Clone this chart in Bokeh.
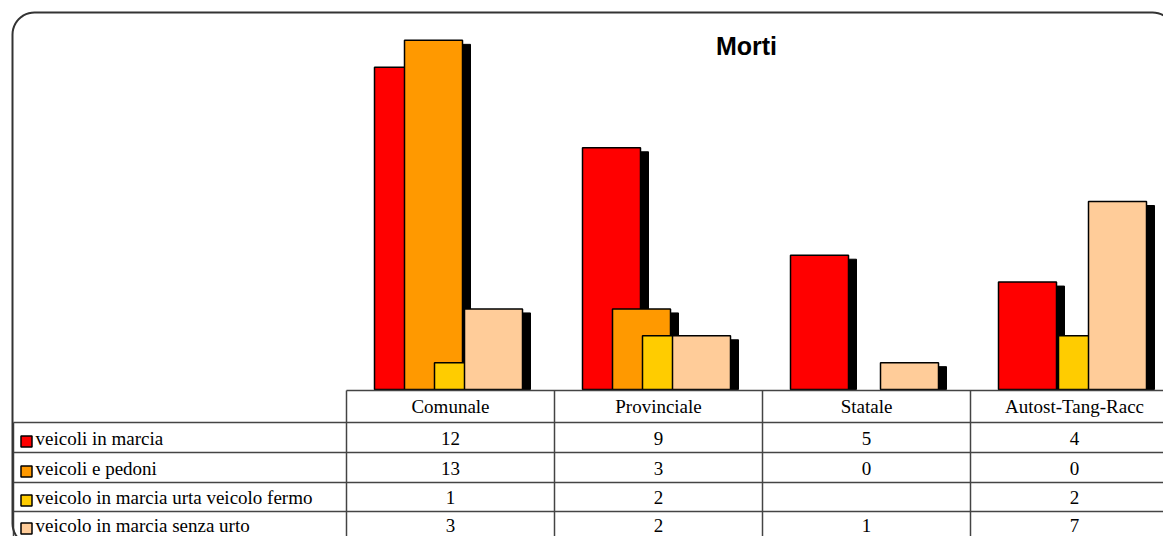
import math
from bokeh.plotting import figure
from bokeh.models import Range1d
from bokeh.core.properties import value
from bokeh.embed import file_html
from bokeh.resources import INLINE

# ---------------- data ----------------
title = "Morti"
categories = ["Comunale", "Provinciale", "Statale", "Autost-Tang-Racc"]
series_names = ["veicoli in marcia", "veicoli e pedoni",
                "veicolo in marcia urta veicolo fermo", "veicolo in marcia senza urto"]
veicoli_in_marcia = [12, 9, 5, 4]
veicoli_e_pedoni = [13, 3, 0, 0]
urta_veicolo_fermo = [1, 2, None, 2]
senza_urto = [3, 2, 1, 7]
series_values = [veicoli_in_marcia, veicoli_e_pedoni, urta_veicolo_fermo, senza_urto]
colors = ["#FF0000", "#FF9900", "#FFCC00", "#FFCC99"]

# ---------------- layout (picture pixels) ----------------
ORIG = 0
W, H = 1163, 536
CAT_W = 208.0          # px per category column
CAT0 = 450.0           # x of first category centre
BASE_Y = 389.0         # y of value 0
UNIT = 376.0 / 14.0    # px per unit of value

p = figure(width=W, height=H, output_backend="svg", toolbar_location=None,
           x_range=Range1d(ORIG, ORIG + W), y_range=Range1d(ORIG + H, ORIG),
           x_axis_location=None, y_axis_location=None, min_border=0)
p.grid.visible = False
p.outline_line_color = None
p.background_fill_color = "white"
p.border_fill_color = "white"

p.extra_x_ranges["cat"] = Range1d((ORIG - CAT0) / CAT_W, (ORIG + W - CAT0) / CAT_W)
p.extra_y_ranges["val"] = Range1d(-(ORIG + H - BASE_Y) / UNIT, (BASE_Y - ORIG) / UNIT)

# ---------------- bars ----------------
offsets_px = [-47, -17, 13, 43]
bar_w = 58 / CAT_W
sh_dx = 8 / CAT_W
sh_dy = 4 / UNIT
for k, vals in enumerate(series_values):
    xs, tops = [], []
    for i, v in enumerate(vals):
        if v is None or v <= 0:
            continue
        xs.append(i + offsets_px[k] / CAT_W)
        tops.append(v)
    if not xs:
        continue
    p.vbar(x=[x + sh_dx for x in xs], top=[t - sh_dy for t in tops], bottom=0, width=bar_w,
           fill_color="black", line_color="black", line_width=1,
           x_range_name="cat", y_range_name="val")
    p.vbar(x=xs, top=tops, bottom=0, width=bar_w,
           fill_color=colors[k], line_color="black", line_width=1.5,
           x_range_name="cat", y_range_name="val")

# ---------------- data table ----------------
LINE_C = "#444444"
TBL_L = 13
RIGHT = ORIG + W
HEADER_TOP = 390
row_lines = [422, 452, 482, 511, 540]
row_mid = [438, 468, 497, 525]
header_mid = 406

hx = [[346, RIGHT]] + [[TBL_L, RIGHT] for _ in row_lines]
hy = [[HEADER_TOP, HEADER_TOP]] + [[y, y] for y in row_lines]
p.multi_line(xs=hx, ys=hy, line_color=LINE_C, line_width=1.5)
vx = [[i - 0.5, i - 0.5] for i in range(len(categories))]
vy = [[HEADER_TOP, row_lines[-1]] for _ in categories]
p.multi_line(xs=vx, ys=vy, line_color=LINE_C, line_width=1.5, x_range_name="cat")
p.line(x=[TBL_L, TBL_L], y=[row_lines[0], row_lines[-1]], line_color=LINE_C, line_width=1.5)

serif = value("Liberation Serif")
FS = "19px"
p.text(x=list(range(len(categories))), y=[header_mid] * len(categories), text=categories,
       text_font=serif, text_font_size=FS, text_align="center",
       text_baseline="middle", text_color="black", x_range_name="cat")

cx, cy, ct = [], [], []
for k, vals in enumerate(series_values):
    for i, v in enumerate(vals):
        if v is None:
            continue
        cx.append(i)
        cy.append(row_mid[k])
        ct.append(str(v))
p.text(x=cx, y=cy, text=ct, text_font=serif, text_font_size=FS,
       text_align="center", text_baseline="middle", text_color="black",
       x_range_name="cat")

p.rect(x=[26] * 4, y=[m + 3 for m in row_mid], width=11, height=11,
       fill_color=colors, line_color="black", line_width=1.5)
p.text(x=[35] * 4, y=row_mid, text=series_names, text_font=serif,
       text_font_size=FS, text_align="left", text_baseline="middle",
       text_color="black")

# ---------------- title ----------------
p.text(x=[746], y=[45], text=[title], text_font=value("Liberation Sans"),
       text_font_style="bold", text_font_size="25px", text_align="center",
       text_baseline="middle", text_color="black")

# ---------------- rounded outer frame ----------------
fl, fr, ft, fb, rad = 12, 1174, 12, 545, 22
fx, fy = [], []
def arc(cx_, cy_, a0, a1, n=12):
    for j in range(n + 1):
        a = math.radians(a0 + (a1 - a0) * j / n)
        fx.append(cx_ + rad * math.cos(a))
        fy.append(cy_ - rad * math.sin(a))
arc(fl + rad, ft + rad, 180, 90)
arc(fr - rad, ft + rad, 90, 0)
arc(fr - rad, fb - rad, 0, -90)
arc(fl + rad, fb - rad, -90, -180)
fx.append(fx[0]); fy.append(fy[0])
p.line(x=fx, y=fy, line_color="#333333", line_width=2)

open("out.html", "w").write(file_html(p, INLINE))
